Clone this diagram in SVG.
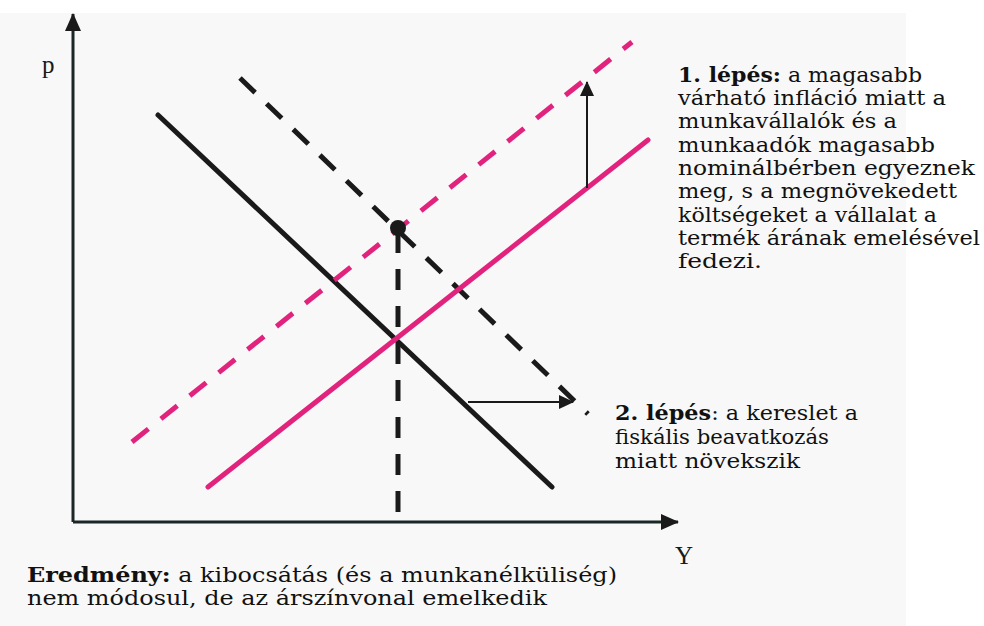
<svg xmlns="http://www.w3.org/2000/svg" width="984" height="626" viewBox="0 0 984 626">
<style>
.ax{stroke:#1b2626;stroke-width:3;fill:none}
.blk{stroke:#1a1a1a;stroke-width:5;fill:none}
.pnk{stroke:#e2237d;stroke-width:5;fill:none}
.dash{stroke-dasharray:21 16}
.arr{stroke:#1a1a1a;stroke-width:2;fill:none}
.t{font-family:"DejaVu Serif","Liberation Serif",serif;font-size:21px;fill:#111111}
.b{font-weight:bold}
.lbl{font-family:"Liberation Serif",serif;font-size:25px;fill:#1a1a1a}
</style>
<defs>
<marker id="ah" markerWidth="16" markerHeight="16" refX="14" refY="7" orient="auto" markerUnits="userSpaceOnUse">
<path d="M0,0 L15,7 L0,14 Z" fill="#1a1a1a"/>
</marker>
<marker id="axh" markerWidth="20" markerHeight="20" refX="17" refY="8" orient="auto" markerUnits="userSpaceOnUse">
<path d="M0,0 L18,8 L0,16 Z" fill="#1a1a1a"/>
</marker>
</defs>
<rect x="0" y="0" width="984" height="626" fill="#ffffff"/>
<rect x="0" y="13" width="906" height="613" fill="#f8f8f8"/>
<g id="axes">
<line class="ax" x1="73" y1="522" x2="73" y2="14" marker-end="url(#axh)"/>
<line class="ax" x1="73" y1="522" x2="678" y2="522" marker-end="url(#axh)"/>
</g>
<g id="connectors">
<line id="demand" class="blk" x1="158" y1="115" x2="552" y2="487" stroke-linecap="round"/>
<line id="demand2" class="blk dash" x1="240" y1="78" x2="588" y2="414"/>
<line id="supply" class="pnk" x1="208" y1="487" x2="648" y2="140" stroke-linecap="round"/>
<line id="supply2" class="pnk dash" x1="132" y1="442" x2="632" y2="42"/>
<line id="vline" class="blk dash" x1="398" y1="232" x2="398" y2="522"/>
<line id="uparrow" class="arr" x1="587" y1="188" x2="587" y2="82" marker-end="url(#ah)"/>
<line id="rarrow" class="arr" x1="468" y1="402" x2="573" y2="402" marker-end="url(#ah)"/>
</g>
<g id="equilibrium">
<circle cx="398" cy="228" r="8" fill="#1a1a1a"/>
</g>
<g id="label-p"><text class="lbl" x="42" y="73">p</text></g>
<g id="label-y"><text class="lbl" x="675" y="564">Y</text></g>
<g id="step1">
<text class="t" x="678" y="82" textLength="244" lengthAdjust="spacingAndGlyphs"><tspan class="b">1. lépés:</tspan> a magasabb</text>
<text class="t" x="678" y="105" textLength="268" lengthAdjust="spacingAndGlyphs">várható infláció miatt a</text>
<text class="t" x="678" y="128" textLength="219" lengthAdjust="spacingAndGlyphs">munkavállalók és a</text>
<text class="t" x="678" y="152" textLength="257" lengthAdjust="spacingAndGlyphs">munkaadók magasabb</text>
<text class="t" x="678" y="175" textLength="297" lengthAdjust="spacingAndGlyphs">nominálbérben egyeznek</text>
<text class="t" x="678" y="198" textLength="279" lengthAdjust="spacingAndGlyphs">meg, s a megnövekedett</text>
<text class="t" x="678" y="222" textLength="259" lengthAdjust="spacingAndGlyphs">költségeket a vállalat a</text>
<text class="t" x="678" y="245" textLength="302" lengthAdjust="spacingAndGlyphs">termék árának emelésével</text>
<text class="t" x="678" y="268" textLength="84" lengthAdjust="spacingAndGlyphs">fedezi.</text>
</g>
<g id="step2">
<text class="t" x="615" y="420" textLength="243" lengthAdjust="spacingAndGlyphs"><tspan class="b">2. lépés</tspan>: a kereslet a</text>
<text class="t" x="615" y="444" textLength="214" lengthAdjust="spacingAndGlyphs">fiskális beavatkozás</text>
<text class="t" x="615" y="468" textLength="185" lengthAdjust="spacingAndGlyphs">miatt növekszik</text>
</g>
<g id="result">
<text class="t" x="27" y="582" textLength="590" lengthAdjust="spacingAndGlyphs"><tspan class="b">Eredmény:</tspan> a kibocsátás (és a munkanélküliség)</text>
<text class="t" x="27" y="605" textLength="520" lengthAdjust="spacingAndGlyphs">nem módosul, de az árszínvonal emelkedik</text>
</g>
</svg>
